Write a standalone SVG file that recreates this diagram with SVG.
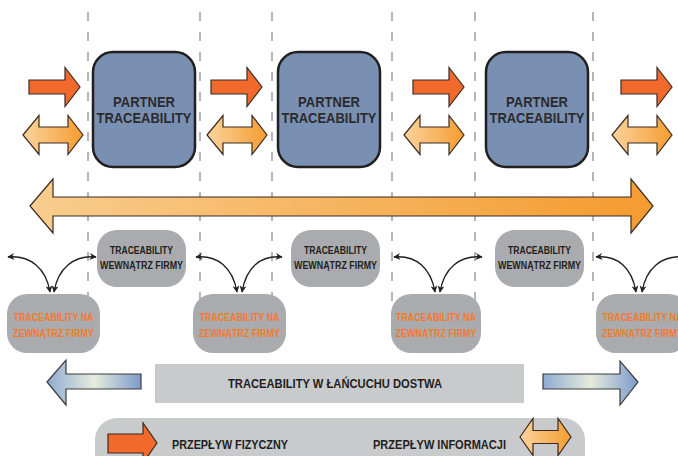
<svg xmlns="http://www.w3.org/2000/svg" width="678" height="456" viewBox="0 0 678 456">
<defs>
<linearGradient id="gInfo" x1="0" y1="0" x2="1" y2="0">
<stop offset="0" stop-color="#fad49e"/><stop offset="1" stop-color="#f59c30"/>
</linearGradient>
<linearGradient id="gBig" x1="0" y1="0" x2="1" y2="0">
<stop offset="0" stop-color="#f8cd8e"/><stop offset="1" stop-color="#f49b2f"/>
</linearGradient>
<linearGradient id="gBlue" x1="0" y1="0" x2="1" y2="0">
<stop offset="0" stop-color="#8fabd2"/><stop offset="0.5" stop-color="#e6ebdc"/><stop offset="1" stop-color="#7d9bcb"/>
</linearGradient>
<path id="phys" d="M0,-7 H36 V-19.5 L51,0 L36,19.5 V7 H0 Z"/>
<path id="info" d="M0,0 L16,-19.5 V-8 H45 V-19.5 L60,0 L45,19.5 V8 H16 V19.5 Z"/>
<marker id="ah" viewBox="0 0 10 10" refX="9" refY="5" markerWidth="7" markerHeight="7" markerUnits="userSpaceOnUse" orient="auto-start-reverse">
<path d="M0,0 L10,5 L0,10 L3,5 Z" fill="#231f20"/>
</marker>
<style>
.dash{stroke:#b4b6b9;stroke-width:2;stroke-dasharray:9 11;fill:none}
.phys{fill:#f26a2b;stroke:#3b2b22;stroke-width:1.2;stroke-linejoin:miter}
.info{fill:url(#gInfo);stroke:#3b2b22;stroke-width:1.2}
.partner{fill:#7a90b2;stroke:#231f20;stroke-width:2.5}
.gbox{fill:#a9abae}
.t{font-family:"Liberation Sans",Arial,sans-serif;font-weight:bold;text-anchor:middle}
.pt{font-size:14px;fill:#2b2b2e}
.it{font-size:10px;fill:#231f20}
.ot{font-size:10px;fill:#f47a2c}
.curve{fill:none;stroke:#231f20;stroke-width:1.4;marker-start:url(#ah);marker-end:url(#ah)}
.blue{fill:url(#gBlue);stroke:#3a3a3a;stroke-width:1.2}
.lt{font-size:12px;fill:#231f20}
</style>
</defs>

<g id="separators">
<line class="dash" x1="88" y1="12" x2="88" y2="307"/>
<line class="dash" x1="200" y1="12" x2="200" y2="307"/>
<line class="dash" x1="272" y1="12" x2="272" y2="307"/>
<line class="dash" x1="392" y1="12" x2="392" y2="307"/>
<line class="dash" x1="475" y1="12" x2="475" y2="307"/>
<line class="dash" x1="593" y1="12" x2="593" y2="307"/>
</g>

<g id="connectors">
<use href="#phys" class="phys" transform="translate(29,87)"/>
<use href="#phys" class="phys" transform="translate(211,87)"/>
<use href="#phys" class="phys" transform="translate(413,87)"/>
<use href="#phys" class="phys" transform="translate(621,87)"/>
<use href="#info" class="info" transform="translate(23,135)"/>
<use href="#info" class="info" transform="translate(207,135)"/>
<use href="#info" class="info" transform="translate(404,135)"/>
<use href="#info" class="info" transform="translate(612,135)"/>
<path id="bigArrow" d="M30,206 L53,179 V197 H631 V179 L653,206 L631,233 V216 H53 V233 Z" fill="url(#gBig)" stroke="#3b2b22" stroke-width="1.2"/>
<path class="curve" d="M8,257 C30,255 46,268 50,292"/>
<path class="curve" d="M96,257 C74,255 58,268 54,292"/>
<path class="curve" d="M196,257 C218,255 233,268 237,292"/>
<path class="curve" d="M282,257 C260,255 246,268 242,292"/>
<path class="curve" d="M394,257 C416,255 431,268 435,292"/>
<path class="curve" d="M482,257 C460,255 444,268 440,292"/>
<path class="curve" d="M596,257 C618,255 632,268 636,292"/>
<path class="curve" d="M684,257 C662,255 646,268 642,292"/>
</g>

<g id="partner1">
<rect class="partner" x="93" y="52" width="102" height="115" rx="20"/>
<text class="t pt" x="144" y="107" textLength="62" lengthAdjust="spacingAndGlyphs">PARTNER</text>
<text class="t pt" x="144" y="123" textLength="95" lengthAdjust="spacingAndGlyphs">TRACEABILITY</text>
</g>
<g id="partner2">
<rect class="partner" x="278" y="52" width="102" height="115" rx="20"/>
<text class="t pt" x="329" y="107" textLength="62" lengthAdjust="spacingAndGlyphs">PARTNER</text>
<text class="t pt" x="329" y="123" textLength="95" lengthAdjust="spacingAndGlyphs">TRACEABILITY</text>
</g>
<g id="partner3">
<rect class="partner" x="486" y="52" width="102" height="115" rx="20"/>
<text class="t pt" x="537" y="107" textLength="62" lengthAdjust="spacingAndGlyphs">PARTNER</text>
<text class="t pt" x="537" y="123" textLength="95" lengthAdjust="spacingAndGlyphs">TRACEABILITY</text>
</g>

<g id="inner1">
<rect class="gbox" x="97" y="230" width="89" height="57" rx="20"/>
<text class="t it" x="141.5" y="254" textLength="63" lengthAdjust="spacingAndGlyphs">TRACEABILITY</text>
<text class="t it" x="141.5" y="269" textLength="83" lengthAdjust="spacingAndGlyphs">WEWNĄTRZ FIRMY</text>
</g>
<g id="inner2">
<rect class="gbox" x="291" y="230" width="89" height="57" rx="20"/>
<text class="t it" x="335.5" y="254" textLength="63" lengthAdjust="spacingAndGlyphs">TRACEABILITY</text>
<text class="t it" x="335.5" y="269" textLength="83" lengthAdjust="spacingAndGlyphs">WEWNĄTRZ FIRMY</text>
</g>
<g id="inner3">
<rect class="gbox" x="495" y="230" width="89" height="57" rx="20"/>
<text class="t it" x="539.5" y="254" textLength="63" lengthAdjust="spacingAndGlyphs">TRACEABILITY</text>
<text class="t it" x="539.5" y="269" textLength="83" lengthAdjust="spacingAndGlyphs">WEWNĄTRZ FIRMY</text>
</g>

<g id="outer1">
<rect class="gbox" x="7" y="294" width="93" height="59" rx="20"/>
<text class="t ot" x="53.5" y="321" textLength="80" lengthAdjust="spacingAndGlyphs">TRACEABILITY NA</text>
<text class="t ot" x="53.5" y="337" textLength="81" lengthAdjust="spacingAndGlyphs">ZEWNĄTRZ FIRMY</text>
</g>
<g id="outer2">
<rect class="gbox" x="193" y="294" width="93" height="59" rx="20"/>
<text class="t ot" x="239.5" y="321" textLength="80" lengthAdjust="spacingAndGlyphs">TRACEABILITY NA</text>
<text class="t ot" x="239.5" y="337" textLength="81" lengthAdjust="spacingAndGlyphs">ZEWNĄTRZ FIRMY</text>
</g>
<g id="outer3">
<rect class="gbox" x="391" y="294" width="90" height="59" rx="20"/>
<text class="t ot" x="436" y="321" textLength="80" lengthAdjust="spacingAndGlyphs">TRACEABILITY NA</text>
<text class="t ot" x="436" y="337" textLength="81" lengthAdjust="spacingAndGlyphs">ZEWNĄTRZ FIRMY</text>
</g>
<g id="outer4">
<rect class="gbox" x="596" y="294" width="93" height="59" rx="20"/>
<text class="t ot" x="642.5" y="321" textLength="80" lengthAdjust="spacingAndGlyphs">TRACEABILITY NA</text>
<text class="t ot" x="642.5" y="337" textLength="81" lengthAdjust="spacingAndGlyphs">ZEWNĄTRZ FIRMY</text>
</g>

<g id="chain">
<path class="blue" d="M47,382 L66,360 V374 H141 V389 H66 V405 Z"/>
<rect x="155" y="364" width="369" height="39" fill="#c9cacc"/>
<text class="t lt" x="335" y="388" textLength="214" lengthAdjust="spacingAndGlyphs">TRACEABILITY W ŁAŃCUCHU DOSTWA</text>
<path class="blue" d="M543,374 H620 V361 L638,382 L620,405 V389 H543 Z"/>
</g>

<g id="legend">
<rect x="95" y="418" width="490" height="60" rx="22" fill="#c9cacc"/>
<path class="phys" d="M108,434 H143 V423 L157,443 L143,463 V453 H108 Z"/>
<text class="t lt" x="230" y="449" textLength="116" lengthAdjust="spacingAndGlyphs">PRZEPŁYW FIZYCZNY</text>
<text class="t lt" x="439.5" y="449" textLength="133" lengthAdjust="spacingAndGlyphs">PRZEPŁYW INFORMACJI</text>
<path class="info" d="M520,437 L533,418.5 V430.5 H558 V418.5 L571,437 L558,455.5 V443.5 H533 V455.5 Z"/>
</g>
</svg>
